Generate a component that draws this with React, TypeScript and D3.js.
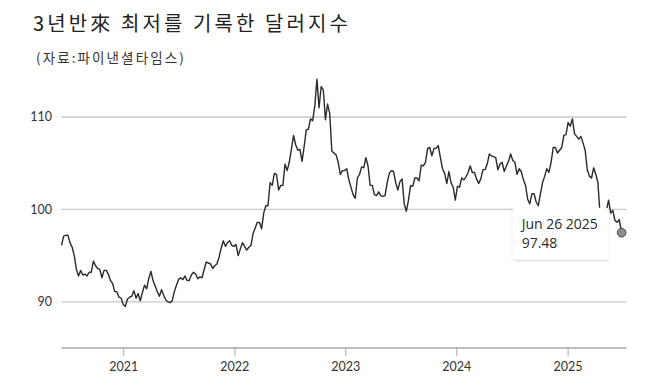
import * as d3 from "d3";

// Weekly (Wednesday) readings of the dollar index, from 2020-06-10
const firstWeek = new Date(2020, 5, 10);

const dxy2020 = [
  96.1, 97.1, 97.2, 97.2, 96.4, 95.9, 95.0, 93.5, 92.8, 93.4,
  92.9, 93.0, 92.8, 93.2, 93.2, 94.4, 93.9, 93.6, 93.5, 92.6,
  93.4, 93.4, 93.0, 92.3, 92.0, 91.1, 91.1, 90.5, 90.4, 89.7,
];
const dxy2021 = [
  89.5, 90.3, 90.5, 90.6, 91.2, 90.4, 90.9, 90.1, 91.0, 91.8,
  91.4, 92.5, 93.3, 92.3, 91.7, 91.1, 90.6, 91.3, 90.7, 90.2,
  90.0, 89.9, 90.1, 91.1, 91.8, 92.4, 92.6, 92.4, 92.8, 92.3,
  92.3, 92.9, 93.2, 93.0, 92.5, 92.7, 92.6, 93.5, 94.3, 94.2,
  94.1, 93.6, 93.9, 94.1, 94.8, 95.8, 96.6, 96.0, 96.4, 96.6,
  96.1, 96.0,
];
const dxy2022 = [
  96.2, 95.0, 95.7, 96.4, 96.0, 95.6, 95.9, 96.1, 97.4, 98.0,
  98.6, 98.6, 97.9, 99.6, 100.4, 100.4, 102.9, 102.6, 103.9, 103.8,
  102.1, 102.6, 102.6, 104.9, 104.2, 105.1, 106.5, 108.0, 107.0, 106.4,
  106.5, 105.2, 106.8, 108.6, 108.7, 109.8, 109.6, 111.2, 114.1, 111.0,
  113.3, 112.9, 109.7, 111.4, 110.4, 106.3, 106.1, 105.9, 105.1, 103.8,
  104.2, 104.2,
];
const dxy2023 = [
  104.4, 103.2, 102.4, 101.6, 101.2, 103.4, 103.8, 104.6, 104.5, 105.6,
  104.7, 102.6, 102.6, 101.6, 101.5, 101.9, 101.5, 101.4, 101.5, 102.9,
  103.9, 104.2, 104.1, 102.9, 102.1, 103.0, 103.3, 100.6, 99.8, 101.0,
  102.6, 102.5, 103.4, 103.4, 103.1, 104.8, 104.7, 105.1, 106.6, 106.7,
  105.8, 106.6, 106.6, 106.9, 105.6, 104.4, 103.9, 102.8, 104.1, 102.9,
  102.4, 101.0,
];
const dxy2024 = [
  102.5, 102.4, 103.4, 103.2, 103.5, 104.0, 104.7, 104.0, 104.0, 103.3,
  102.8, 103.3, 104.3, 104.3, 104.9, 106.0, 105.8, 105.7, 105.6, 104.3,
  104.9, 105.1, 104.1, 104.7, 105.2, 106.0, 105.3, 105.1, 103.8, 104.4,
  104.1, 103.2, 102.6, 101.1, 100.6, 101.7, 101.7, 100.8, 100.4, 101.7,
  102.9, 103.6, 104.4, 104.0, 105.1, 106.7, 106.7, 106.1, 106.4, 106.7,
  108.0, 108.1,
];
const dxy2025 = [
  109.4, 109.0, 109.8, 108.2, 107.9, 107.6, 107.9, 107.2, 106.4, 104.3,
  103.6, 103.4, 104.5, 103.8, 102.9, 99.4, 99.3, 99.5, 99.9, 101.0,
  99.6, 99.9, 98.8, 98.6, 98.9,
];
const lastDate = new Date(2025, 5, 26);
const lastValue = 97.48;

const yearTicks = [2021, 2022, 2023, 2024, 2025];
const valueTicks = [90, 100, 110];

const title = "3년반來 최저를 기록한 달러지수";
const source = "(자료:파이낸셜타임스)";

type Point = { date: Date; value: number };

const weekly = [...dxy2020, ...dxy2021, ...dxy2022, ...dxy2023, ...dxy2024, ...dxy2025];
const points: Point[] = weekly.map((v, i) => ({ date: d3.timeDay.offset(firstWeek, i * 7), value: v }));
points.push({ date: lastDate, value: lastValue });

const width = 658;
const height = 390;
const left = 61.5;
const right = 626.5;
const axisY = 348;

export default function App() {
  const x = d3.scaleTime().domain([firstWeek, new Date(2025, 6, 12)]).range([left, right]);
  const y = d3.scaleLinear().domain([85, 110]).range([axisY, 117]);

  const line = d3.line<Point>().x(d => x(d.date)).y(d => y(d.value));

  const dotX = x(lastDate);
  const dotY = y(lastValue);
  const boxW = 96;
  const boxH = 52;
  const boxX = dotX - 13 - boxW;
  const boxY = dotY - 25;

  const tickFont = "Lato, 'Noto Sans', sans-serif";

  return (
    <svg width={width} height={height} style={{ position: "absolute", left: 0, top: 0, background: "#fff" }}>
      <defs>
        <filter id="shadow" x="-20%" y="-20%" width="140%" height="160%">
          <feDropShadow dx="0" dy="1" stdDeviation="1.2" floodColor="#000" floodOpacity="0.18" />
        </filter>
      </defs>

      <text x={33} y={31} fontSize={20} fill="#222" letterSpacing={3.1}
        fontFamily="'Noto Sans CJK KR', sans-serif">{title}</text>
      <text x={36} y={63} fontSize={13.5} fill="#333" letterSpacing={2.1}
        fontFamily="'Noto Sans CJK KR', sans-serif">{source}</text>

      {valueTicks.map(t => (
        <g key={t}>
          <line x1={left} x2={right} y1={y(t)} y2={y(t)} stroke="#c9c9c9" strokeWidth={1.3} />
          <text x={52} y={y(t)} dy="0.35em" textAnchor="end" fontSize={12.5} fill="#333" fontFamily={tickFont}>{t}</text>
        </g>
      ))}

      <line x1={left} x2={right} y1={axisY} y2={axisY} stroke="#a8a8a8" strokeWidth={1.3} />
      {yearTicks.map(yr => {
        const tx = x(new Date(yr, 0, 1));
        return (
          <g key={yr}>
            <line x1={tx} x2={tx} y1={axisY} y2={axisY + 8} stroke="#a8a8a8" strokeWidth={1} />
            <text x={tx} y={367} dy="0.35em" textAnchor="middle" fontSize={12.5} fill="#333" fontFamily={tickFont}>{yr}</text>
          </g>
        );
      })}

      <path d={line(points) ?? ""} fill="none" stroke="#2a2a2a" strokeWidth={1.4} strokeLinejoin="round" />

      <rect x={boxX} y={boxY} width={boxW} height={boxH} rx={3} fill="#fff" filter="url(#shadow)" />
      <text x={boxX + 9} y={boxY + 21} fontSize={14} fill="#2a2a2a" fontFamily="'Open Sans', sans-serif">
        {d3.timeFormat("%b %-d %Y")(lastDate)}
      </text>
      <text x={boxX + 9} y={boxY + 40} fontSize={14} fill="#2a2a2a" fontFamily="'Open Sans', sans-serif">
        {lastValue.toFixed(2)}
      </text>

      <circle cx={dotX} cy={dotY} r={4.3} fill="#8c8c8c" stroke="#444" strokeWidth={1} />
    </svg>
  );
}
